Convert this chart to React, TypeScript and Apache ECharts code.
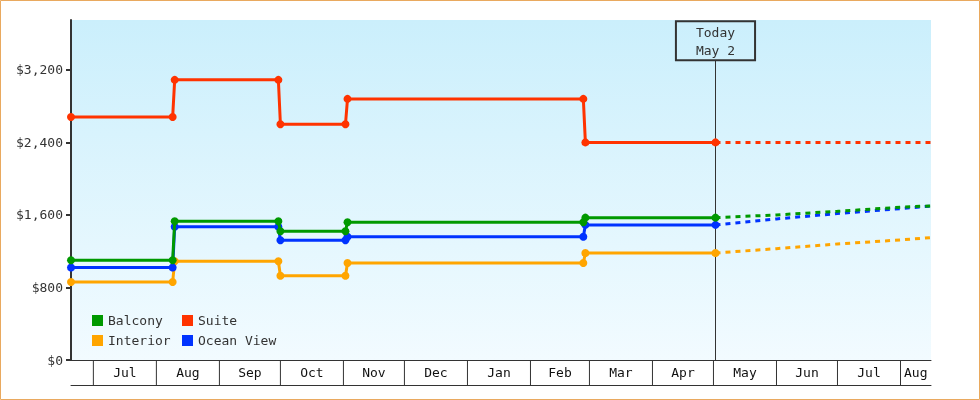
import React, { useEffect, useRef } from 'react';
import * as echarts from 'echarts';

// ---- data ----
const stepDates = ['2023-06-20', '2023-08-09', '2023-08-10', '2023-09-30', '2023-10-01', '2023-11-02', '2023-11-03', '2024-02-27', '2024-02-28', '2024-05-02'];
const balcony = [1100, 1100, 1530, 1530, 1420, 1420, 1520, 1520, 1570, 1570];
const suite = [2680, 2680, 3090, 3090, 2600, 2600, 2880, 2880, 2400, 2400];
const interior = [860, 860, 1090, 1090, 930, 930, 1070, 1070, 1180, 1180];
const oceanView = [1020, 1020, 1470, 1470, 1320, 1320, 1360, 1360, 1490, 1490];

const forecastDates = ['2024-05-02', '2024-06-01', '2024-07-01', '2024-08-01', '2024-08-16'];
const balconyForecast = [1570, 1600, 1640, 1685, 1700];
const suiteForecast = [2400, 2400, 2400, 2400, 2400];
const interiorForecast = [1180, 1228, 1280, 1324, 1350];
const oceanViewForecast = [1490, 1556, 1615, 1670, 1698];

const monthStarts = ['2023-07-01', '2023-08-01', '2023-09-01', '2023-10-01', '2023-11-01', '2023-12-01', '2024-01-01', '2024-02-01', '2024-03-01', '2024-04-01', '2024-05-01', '2024-06-01', '2024-07-01', '2024-08-01'];
const monthLabels = ['Jul', 'Aug', 'Sep', 'Oct', 'Nov', 'Dec', 'Jan', 'Feb', 'Mar', 'Apr', 'May', 'Jun', 'Jul', 'Aug'];

const yTicks = [0, 800, 1600, 2400, 3200];
const yMax = 3750;
const rangeStart = '2023-06-20';
const rangeEnd = '2024-08-16';
const todayDate = '2024-05-02';
const todayLabel = 'Today\nMay 2';
const todayBoxBottomValue = 3305;

const legendLeftCol = ['Balcony', 'Interior'];
const legendRightCol = ['Suite', 'Ocean View'];

// ---- helpers ----
const ts = (s: string) => {
  const [y, m, d] = s.split('-').map(Number);
  return new Date(y, m - 1, d).getTime();
};

const FONT = 'DejaVu Sans Mono';
const TEXT = '#333333';
const COLORS: Record<string, string> = {
  Balcony: '#009900',
  Suite: '#ff3300',
  Interior: '#ffa500',
  'Ocean View': '#0033ff',
};

export default function App() {
  const ref = useRef<HTMLDivElement>(null);

  useEffect(() => {
    if (!ref.current) return;
    const chart = echarts.init(ref.current, undefined, { renderer: 'svg' });
    const xMin = ts(rangeStart);
    const xMax = ts(rangeEnd);
    const today = ts(todayDate);

    const hist = (name: string, vals: number[], z: number, extra: any = {}) => ({
      type: 'line',
      name,
      xAxisIndex: 0,
      yAxisIndex: 0,
      z,
      data: stepDates.map((d, i) => [ts(d), vals[i]]),
      symbol: 'circle',
      symbolSize: 8,
      showSymbol: true,
      lineStyle: { color: COLORS[name], width: 3 },
      itemStyle: { color: COLORS[name] },
      ...extra,
    });
    const fc = (name: string, vals: number[], z: number) => ({
      type: 'line',
      name: name + ' forecast',
      xAxisIndex: 0,
      yAxisIndex: 0,
      z,
      data: forecastDates.map((d, i) => [ts(d), vals[i]]),
      symbol: 'none',
      showSymbol: false,
      lineStyle: { color: COLORS[name], width: 3, type: [5, 5] },
      itemStyle: { color: COLORS[name] },
    });

    const monthData = monthStarts.map((d, i) => [
      ts(d),
      i + 1 < monthStarts.length ? ts(monthStarts[i + 1]) : xMax,
      i,
    ]);

    const legendCommon = {
      orient: 'vertical',
      icon: 'rect',
      itemWidth: 11,
      itemHeight: 11,
      itemGap: 7,
      padding: 0,
      top: 314,
      textStyle: { color: TEXT, fontSize: 13, fontFamily: FONT },
      itemStyle: { borderWidth: 0 },
    };

    chart.setOption({
      animation: false,
      textStyle: { fontFamily: FONT },
      graphic: [
        {
          type: 'rect',
          silent: true,
          shape: { x: 0.5, y: 0.5, width: 979, height: 399 },
          style: { fill: 'none', stroke: '#e9a95f', lineWidth: 1 },
        },
      ],
      legend: [
        { ...legendCommon, left: 92, data: legendLeftCol },
        { ...legendCommon, left: 182, data: legendRightCol },
      ],
      grid: [
        {
          left: 71,
          right: 49,
          top: 20,
          height: 340,
          show: true,
          borderWidth: 0,
          backgroundColor: new echarts.graphic.LinearGradient(0, 0, 0, 1, [
            { offset: 0, color: '#cbeffc' },
            { offset: 1, color: '#f2fbff' },
          ]),
        },
        { left: 71, right: 49, top: 360, height: 25, show: false },
      ],
      xAxis: [
        {
          type: 'time',
          gridIndex: 0,
          min: xMin,
          max: xMax,
          axisLine: { show: true, lineStyle: { color: TEXT, width: 1 } },
          axisTick: { show: false },
          axisLabel: { show: false },
          splitLine: { show: false },
        },
        {
          type: 'time',
          gridIndex: 1,
          min: xMin,
          max: xMax,
          position: 'bottom',
          axisLine: { show: true, lineStyle: { color: TEXT, width: 1 } },
          axisTick: { show: false },
          axisLabel: { show: false },
          splitLine: { show: false },
        },
      ],
      yAxis: [
        {
          type: 'value',
          gridIndex: 0,
          min: 0,
          max: yMax,
          axisLine: { show: true, lineStyle: { color: TEXT, width: 2 } },
          axisTick: { show: true, length: 5, lineStyle: { color: TEXT, width: 2 }, customValues: yTicks },
          axisLabel: {
            show: true,
            margin: 8,
            color: TEXT,
            fontSize: 13,
            fontFamily: FONT,
            customValues: yTicks,
            formatter: (v: number) => '$' + v.toLocaleString('en-US'),
          },
          splitLine: { show: false },
        },
        { type: 'value', gridIndex: 1, min: 0, max: 1, show: false },
      ],
      series: [
        {
          type: 'custom',
          xAxisIndex: 1,
          yAxisIndex: 1,
          silent: true,
          data: monthData,
          encode: { x: [0, 1], y: 2 },
          renderItem: (params: any, api: any) => {
            const s = api.coord([api.value(0), 1]);
            const e = api.coord([api.value(1), 0]);
            const idx = api.value(2);
            return {
              type: 'group',
              children: [
                {
                  type: 'line',
                  shape: { x1: s[0], y1: s[1], x2: s[0], y2: e[1] },
                  style: { stroke: TEXT, lineWidth: 1 },
                },
                {
                  type: 'text',
                  x: (s[0] + e[0]) / 2,
                  y: (s[1] + e[1]) / 2,
                  style: {
                    text: monthLabels[idx],
                    fill: '#111',
                    fontSize: 13,
                    fontFamily: FONT,
                    align: 'center',
                    verticalAlign: 'middle',
                  },
                },
              ],
            };
          },
        },
        fc('Interior', interiorForecast, 2),
        fc('Ocean View', oceanViewForecast, 3),
        fc('Balcony', balconyForecast, 4),
        fc('Suite', suiteForecast, 5),
        hist('Interior', interior, 6),
        hist('Ocean View', oceanView, 7),
        hist('Balcony', balcony, 8),
        hist('Suite', suite, 9, {
          markLine: {
            silent: true,
            symbol: 'none',
            z: 1,
            lineStyle: { color: TEXT, width: 1, type: 'solid' },
            label: {
              show: true,
              position: 'end',
              distance: 0,
              formatter: todayLabel,
              color: TEXT,
              fontSize: 13,
              fontFamily: FONT,
              lineHeight: 18,
              align: 'center',
              padding: [2, 20, 1, 20],
              borderColor: TEXT,
              borderWidth: 1,
              backgroundColor: 'rgba(0,0,0,0)',
            },
            data: [[{ coord: [today, 0] }, { coord: [today, todayBoxBottomValue] }]],
          },
        }),
      ],
    });
    return () => chart.dispose();
  }, []);

  return (
    <div
      ref={ref}
      style={{ position: 'fixed', left: 0, top: 0, width: 980, height: 400 }}
    />
  );
}
